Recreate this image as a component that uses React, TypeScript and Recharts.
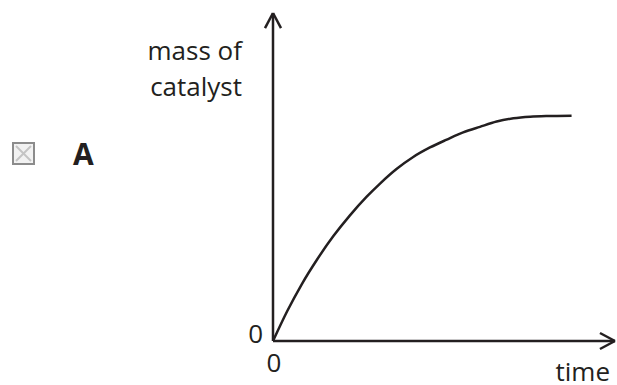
import React from 'react';
import { LineChart, Line, XAxis, YAxis, ReferenceLine } from 'recharts';

// Schematic curve: time vs mass of catalyst (arbitrary units, 0..100 axes)
const timeValues = [0, 4.1, 8.4, 12.8, 17.6, 22.5, 27.4, 31.3, 36.2, 41.0, 45.9, 50.8, 55.6, 60.5, 65.4, 70.3, 75.2, 80.0, 87.3];
const massValues = [0, 9.0, 17.3, 24.7, 31.9, 38.3, 44.0, 48.0, 52.5, 56.1, 59.0, 61.4, 63.6, 65.3, 66.9, 67.9, 68.4, 68.6, 68.7];
const xTicks = [0];
const yTicks = [0];
const xLabel = 'time';
const yLabelLines = ['mass of', 'catalyst'];
const optionLetter = 'A';

const data = timeValues.map((t, i) => ({ time: t, mass: massValues[i] }));

const INK = '#231f20';
const FONT = '"Open Sans", "Noto Sans", sans-serif';
const FS = 26;

const XTick = (props: any) => {
  const { x, y, payload } = props;
  return (
    <text x={x + 1} y={y + 31} textAnchor="middle" fontFamily={FONT} fontSize={FS} fill={INK}>
      {payload.value}
    </text>
  );
};

const YTick = (props: any) => {
  const { x, y, payload } = props;
  return (
    <text x={x - 10} y={y + 2} textAnchor="end" fontFamily={FONT} fontSize={FS} fill={INK}>
      {payload.value}
    </text>
  );
};

const XLabel = (props: any) => {
  const vb = props.viewBox || { x: 273, y: 341, width: 342, height: 44 };
  return (
    <text x={vb.x + vb.width - 5} y={vb.y + 40} textAnchor="end" fontFamily={FONT} fontSize={FS} fill={INK}>
      {xLabel}
    </text>
  );
};

const YLabel = (props: any) => {
  const vb = props.viewBox || { x: 0, y: 13, width: 273, height: 328 };
  const right = vb.x + vb.width - 31;
  return (
    <text textAnchor="end" fontFamily={FONT} fontSize={FS} fill={INK}>
      {yLabelLines.map((line, i) => (
        <tspan key={i} x={right} y={vb.y + 47 + i * 36}>
          {line}
        </tspan>
      ))}
    </text>
  );
};

const arrowStyle = { stroke: INK, strokeWidth: 2.5 };

export default function App() {
  return (
    <div style={{ position: 'absolute', left: 0, top: 0, width: 617, height: 385, background: '#fff' }}>
      <svg width={617} height={385} style={{ position: 'absolute', left: 0, top: 0 }}>
        <rect x={13} y={143} width={21} height={21} fill="#f2f2f2" stroke="#8c8c8c" strokeWidth={2} />
        <line x1={16} y1={146} x2={31} y2={161} stroke="#c4c4c4" strokeWidth={2} />
        <line x1={31} y1={146} x2={16} y2={161} stroke="#c4c4c4" strokeWidth={2} />
        <text x={73} y={165} fontFamily={FONT} fontWeight={700} fontSize={30} fill={INK}>
          {optionLetter}
        </text>
      </svg>
      <div style={{ position: 'absolute', left: 0, top: 0 }}>
        <LineChart width={617} height={385} data={data} margin={{ top: 13, right: 2, bottom: 0, left: 0 }}>
          <XAxis
            dataKey="time"
            type="number"
            domain={[0, 100]}
            allowDataOverflow
            ticks={xTicks}
            tickLine={false}
            tickSize={0}
            tickMargin={0}
            height={44}
            axisLine={{ stroke: INK, strokeWidth: 2.5 }}
            tick={<XTick />}
            label={<XLabel />}
          />
          <YAxis
            type="number"
            domain={[0, 100]}
            allowDataOverflow
            ticks={yTicks}
            tickLine={false}
            tickSize={0}
            tickMargin={0}
            width={273}
            axisLine={{ stroke: INK, strokeWidth: 2.5 }}
            tick={<YTick />}
            label={<YLabel />}
          />
          <ReferenceLine segment={[{ x: 95.6, y: 2.44 }, { x: 100, y: 0 }]} ifOverflow="visible" {...arrowStyle} />
          <ReferenceLine segment={[{ x: 95.6, y: -2.44 }, { x: 100, y: 0 }]} ifOverflow="visible" {...arrowStyle} />
          <ReferenceLine segment={[{ x: -2.34, y: 95.4 }, { x: 0, y: 100 }]} ifOverflow="visible" {...arrowStyle} />
          <ReferenceLine segment={[{ x: 2.34, y: 95.4 }, { x: 0, y: 100 }]} ifOverflow="visible" {...arrowStyle} />
          <Line
            type="monotone"
            dataKey="mass"
            stroke={INK}
            strokeWidth={2.5}
            dot={false}
            activeDot={false}
            isAnimationActive={false}
          />
        </LineChart>
      </div>
    </div>
  );
}
